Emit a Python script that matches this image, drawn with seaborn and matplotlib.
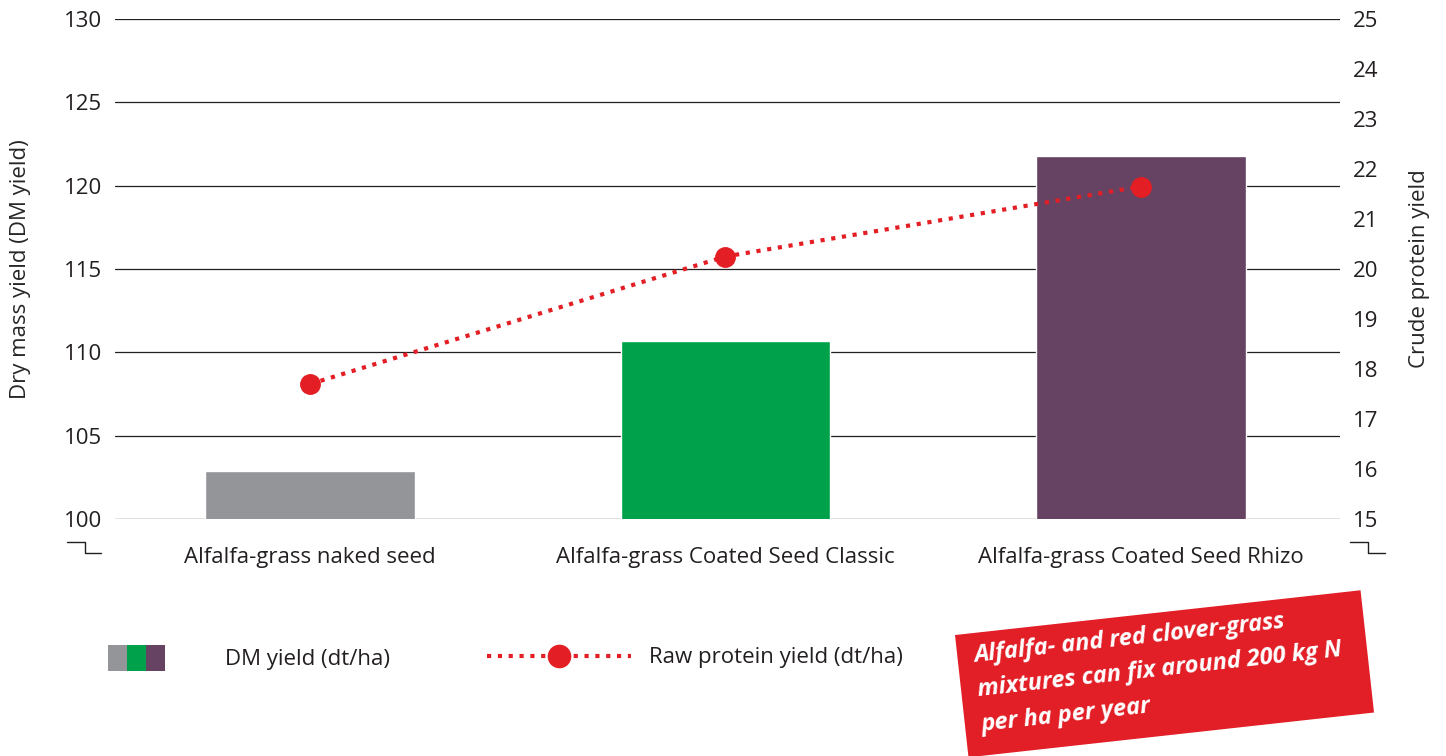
import numpy as np
import matplotlib
matplotlib.use("Agg")
import matplotlib.pyplot as plt
import matplotlib.transforms as mtransforms
from matplotlib.patches import Rectangle, Patch
from matplotlib.lines import Line2D
from matplotlib.legend_handler import HandlerTuple
import seaborn as sns

categories = ["Alfalfa-grass naked seed",
              "Alfalfa-grass Coated Seed Classic",
              "Alfalfa-grass Coated Seed Rhizo"]
dm_yield = [102.9, 110.7, 121.8]
protein_yield = [17.7, 20.25, 21.65]
bar_colors = ["#939598", "#00A14B", "#664263"]
red = "#E31E24"

sns.set_style("white")
plt.rcParams["font.family"] = ["Open Sans", "DejaVu Sans"]
plt.rcParams["text.color"] = "#231F20"

fig = plt.figure(figsize=(14.46, 7.56), dpi=100)
ax = fig.add_axes([115 / 1446, 1 - 519 / 756, 1225 / 1446, 500 / 756])

sns.barplot(x=categories, y=dm_yield, hue=categories, palette=bar_colors,
            legend=False, width=0.505, saturation=1, ax=ax)
ax.set_ylim(100, 130)
ax.set_yticks(np.arange(100, 131, 5))
ax.set_xlim(-0.47, 2.48)
ax.set_axisbelow(True)
ax.yaxis.grid(True, color="#231F20", linewidth=0.9)
for s in ax.spines.values():
    s.set_visible(False)
ax.tick_params(axis="y", length=0, pad=9, labelsize=16, labelcolor="#231F20")
ax.tick_params(axis="x", length=0, pad=20, labelsize=16, labelcolor="#231F20")
ax.set_ylabel("Dry mass yield (DM yield)", fontsize=16, labelpad=24)

ax2 = ax.twinx()
ax2.plot(np.arange(len(categories)), protein_yield, color=red, linestyle=(0, (1, 1.6)),
         linewidth=3, marker="o", markersize=14, zorder=3)
ax2.set_ylim(15, 25)
ax2.set_yticks(np.arange(15, 26, 1))
for s in ax2.spines.values():
    s.set_visible(False)
ax2.tick_params(axis="y", length=0, pad=9, labelsize=16, labelcolor="#231F20")
ax2.set_ylabel("Crude protein yield", fontsize=16, labelpad=22)
ax2.grid(False)

# axis break marks (pixel coordinates, origin bottom-left)
px = mtransforms.Affine2D().scale(1 / 100) + fig.dpi_scale_trans
for xs in ([67, 85, 85, 101], [1350, 1368, 1368, 1385]):
    fig.add_artist(Line2D(xs, [756 - 542, 756 - 542, 756 - 553, 756 - 553],
                          color="#231F20", linewidth=1.0, transform=px))

# legends
bar_handles = tuple(Patch(facecolor=c, edgecolor="none") for c in bar_colors)
leg1 = fig.legend([bar_handles], ["DM yield (dt/ha)"],
                  handler_map={tuple: HandlerTuple(ndivide=None, pad=0)},
                  loc="center left", bbox_to_anchor=(108 / 1446, 1 - 658 / 756),
                  frameon=False, fontsize=16, handlelength=2.55, handleheight=1.45,
                  handletextpad=2.7, borderpad=0, borderaxespad=0)
line_handle = Line2D([], [], color=red, linestyle=(0, (1, 1.6)), linewidth=3,
                     marker="o", markersize=16)
leg2 = fig.legend([line_handle], ["Raw protein yield (dt/ha)"],
                  loc="center left", bbox_to_anchor=(487 / 1446, 1 - 658 / 756),
                  frameon=False, fontsize=16, handlelength=6.5, numpoints=1,
                  handletextpad=0.8, borderpad=0, borderaxespad=0)

# rotated red note box
angle = 6.3
rot = mtransforms.Affine2D().rotate_deg_around(968.5, -1.3, angle)
fig.add_artist(Rectangle((968.5, -1.3), 408, 123, facecolor="#E21E26",
                         edgecolor="none", transform=rot + px))
fig.text(973 / 1446, 112 / 756,
         "Alfalfa- and red clover-grass\nmixtures can fix around 200 kg N\nper ha per year",
         rotation=angle, rotation_mode="anchor", ha="left", va="top",
         color="white", fontsize=17, fontweight="bold", fontstyle="italic",
         linespacing=1.6)

fig.savefig("out.png", dpi=100)
